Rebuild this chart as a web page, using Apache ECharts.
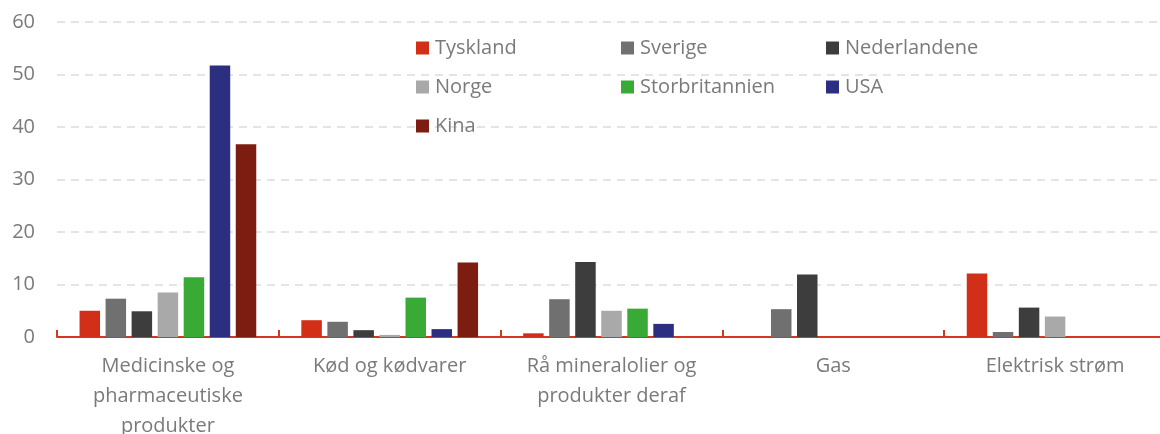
<!DOCTYPE html>
<html>
<head>
<meta charset="utf-8">
<style>
  body,
  html {
    overflow: hidden;
    width: 100%;
    height: 100%;
    margin: 0;
    padding: 0;
    background: #fff;
  }
  #chart-wrapper {
    width: 1160px;
    height: 434px;
  }
</style>
</head>
<body>
<div id="chart-wrapper"></div>

<script src="https://cdn.jsdelivr.net/npm/echarts@6/dist/echarts.min.js"></script>

<script>
  // categories on the x axis
  const categories = [
    "Medicinske og\npharmaceutiske\nprodukter",
    "Kød og kødvarer",
    "Rå mineralolier og\nprodukter deraf",
    "Gas",
    "Elektrisk strøm",
  ];

  // values per country (null = no bar)
  const tyskland = [5.0, 3.2, 0.7, null, 12.1];
  const sverige = [7.3, 2.9, 7.2, 5.3, 0.95];
  const nederlandene = [4.9, 1.3, 14.3, 11.9, 5.6];
  const norge = [8.5, 0.4, 5.0, null, 3.9];
  const storbritannien = [11.4, 7.5, 5.4, null, null];
  const usa = [51.7, 1.5, 2.5, null, null];
  const kina = [36.7, 14.2, null, null, null];

  const yTicks = [0, 10, 20, 30, 40, 50, 60];

  const seriesDefs = [
    { name: "Tyskland", data: tyskland, color: "#D22F18" },
    { name: "Sverige", data: sverige, color: "#707070" },
    { name: "Nederlandene", data: nederlandene, color: "#3D3D3D" },
    { name: "Norge", data: norge, color: "#A9A9A9" },
    { name: "Storbritannien", data: storbritannien, color: "#3AAA36" },
    { name: "USA", data: usa, color: "#2C2E80" },
    { name: "Kina", data: kina, color: "#7D1C10" },
  ];

  const textGray = "#7a7a7a";
  const font = "Open Sans";

  const legendCol = (left, names) => ({
    orient: "vertical",
    left: left,
    top: 37,
    padding: 0,
    itemWidth: 13,
    itemHeight: 13,
    itemGap: 17,
    icon: "rect",
    selectedMode: false,
    textStyle: {
      color: textGray,
      fontFamily: font,
      fontSize: 20,
      lineHeight: 22,
      padding: [0, 0, 0, 1],
    },
    data: names,
  });

  const chartDom = document.getElementById("chart-wrapper");
  const chart = echarts.init(chartDom, null, { renderer: "canvas" });

  const option = {
    animation: false,
    backgroundColor: "#fff",
    grid: {
      left: 57,
      right: -6,
      top: 22,
      bottom: 97,
      containLabel: false,
      outerBoundsMode: "none",
    },
    legend: [
      legendCol(416, ["Tyskland", "Norge", "Kina"]),
      legendCol(621, ["Sverige", "Storbritannien"]),
      legendCol(826, ["Nederlandene", "USA"]),
    ],
    xAxis: {
      type: "category",
      data: categories,
      axisLine: {
        lineStyle: { color: "#D6361F", width: 2 },
      },
      axisTick: {
        show: true,
        inside: true,
        length: 7,
        lineStyle: { color: "#D6361F", width: 2 },
      },
      axisLabel: {
        color: textGray,
        fontFamily: font,
        fontSize: 20,
        lineHeight: 30,
        margin: 14,
        interval: 0,
      },
    },
    yAxis: {
      type: "value",
      min: yTicks[0],
      max: yTicks[yTicks.length - 1],
      interval: 10,
      axisLine: { show: false },
      axisTick: { show: false },
      axisLabel: {
        color: textGray,
        fontFamily: font,
        fontSize: 20,
        margin: 22,
      },
      splitLine: {
        lineStyle: { color: "#DCDCDC", type: [8, 6], width: 1.5 },
      },
    },
    series: seriesDefs.map((s) => ({
      type: "bar",
      name: s.name,
      data: s.data,
      barWidth: 20.5,
      barGap: "27%",
      itemStyle: { color: s.color },
    })),
  };

  chart.setOption(option);
</script>
</body>
</html>
